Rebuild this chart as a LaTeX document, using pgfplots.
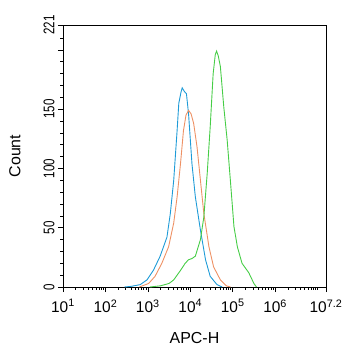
\documentclass[border=0pt]{standalone}
\usepackage{pgfplots}
\pgfplotsset{compat=1.18}
\usepackage{fontspec}
\setmainfont{Liberation Sans}
\definecolor{cblue}{RGB}{30,155,215}
\definecolor{corange}{RGB}{238,145,100}
\definecolor{cgreen}{RGB}{70,205,70}
\begin{document}
\begin{tikzpicture}
\begin{axis}[
  name=ax,
  scale only axis,
  width=263bp, height=262bp,
  xmin=1, xmax=7.2, ymin=0, ymax=221,
  axis line style={line width=0.7pt},
  tick pos=left,
  tick align=outside,
  major tick length=5bp,
  minor tick length=2.5bp,
  tick style={black, line width=0.6pt},
  xtick={1,2,3,4,5,6,7.2},
  xticklabels={10\textsuperscript{1},10\textsuperscript{2},10\textsuperscript{3},10\textsuperscript{4},10\textsuperscript{5},10\textsuperscript{6},10\textsuperscript{7.2}},
  minor xtick={1.301,1.477,1.602,1.699,1.778,1.845,1.903,1.954,
               2.301,2.477,2.602,2.699,2.778,2.845,2.903,2.954,
               3.301,3.477,3.602,3.699,3.778,3.845,3.903,3.954,
               4.301,4.477,4.602,4.699,4.778,4.845,4.903,4.954,
               5.301,5.477,5.602,5.699,5.778,5.845,5.903,5.954,
               6.301,6.477,6.602,6.699,6.778,6.845,6.903,6.954,7},
  ytick={0,50,100,150,200,221},
  yticklabels={0,50,100,150,,221},
  minor ytick={10,20,30,40,60,70,80,90,110,120,130,140,160,170,180,190,210},
  xticklabel style={font=\fontsize{15.5}{17}\selectfont, yshift=-4bp, inner xsep=0pt},
  yticklabel style={font=\fontsize{15.5}{17}\selectfont, rotate=90, anchor=south, xscale=0.75},
  xlabel={APC-H},
  ylabel={Count},
  xlabel style={font=\fontsize{16}{18}\selectfont, at={(axis description cs:0.5,-0.1947)}, anchor=center},
  ylabel style={font=\fontsize{16}{18}\selectfont, at={(axis description cs:-0.1825,0.5)}, anchor=center},
  every axis plot/.append style={line width=0.9pt, mark=none},
]
\addplot[cblue] coordinates {
(2.45,0)(2.6,0.5)(2.82,2)(2.98,6)(3.13,14)(3.29,26)(3.45,42)(3.53,62)(3.61,90)
(3.69,132)(3.73,155)(3.78,164)(3.81,168)(3.86,165)(3.91,163)(3.96,146)
(4.04,104)(4.12,76)(4.24,48)(4.36,23)(4.47,9)(4.63,2)(4.75,0)};
\addplot[corange] coordinates {
(2.8,0)(3.02,3)(3.17,9)(3.33,20)(3.49,34)(3.61,54)(3.69,76)(3.77,104)(3.84,132)
(3.90,145)(3.96,149)(4.02,146)(4.08,138)(4.16,118)(4.24,90)(4.32,62)(4.44,34)
(4.55,17)(4.71,6)(4.85,1)(4.95,0)};
\addplot[cgreen] coordinates {
(3.05,0)(3.3,1)(3.5,3)(3.61,6)(3.77,14)(3.88,20)(3.96,23)(4.04,24)(4.12,26)
(4.24,40)(4.32,59)(4.40,96)(4.47,135)(4.54,180)(4.59,196)(4.62,199)(4.66,195)
(4.71,186)(4.79,152)(4.87,124)(4.95,88)(5.03,51)(5.11,34)(5.22,20)(5.38,12)
(5.5,3)(5.56,0)};
\end{axis}
\pgfresetboundingbox
\path ([xshift=-63bp,yshift=-63bp]ax.south west) rectangle ([xshift=17bp,yshift=25bp]ax.north east);
\end{tikzpicture}
\end{document}
